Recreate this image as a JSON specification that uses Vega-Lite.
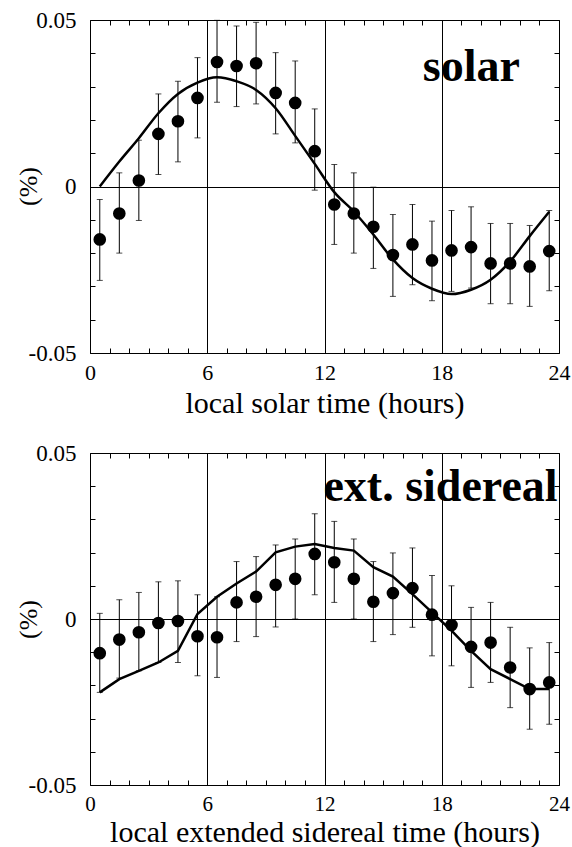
{
  "$schema": "https://vega.github.io/schema/vega-lite/v6.json",
  "padding": {"left": 14, "top": 8, "right": 0, "bottom": 0},
  "bounds": "flush",
  "spacing": 100,
  "config": {
    "view": {"stroke": "black", "strokeWidth": 1},
    "font": "Liberation Serif",
    "axis": {
      "labelFont": "Liberation Serif", "titleFont": "Liberation Serif",
      "labelColor": "black", "titleColor": "black", "tickColor": "black",
      "labelFontSize": 23, "titleFontWeight": "normal",
      "labelFlush": false, "labelOverlap": false, "labelBound": false,
      "domain": false, "tickWidth": 1, "tickSize": -5
    }
  },
  "datasets": {
    "solar": [
      {"h": 0.5, "v": -0.0159, "lo": -0.0282, "hi": -0.0039},
      {"h": 1.5, "v": -0.0081, "lo": -0.0200, "hi": 0.0041},
      {"h": 2.5, "v": 0.0018, "lo": -0.0102, "hi": 0.0139},
      {"h": 3.5, "v": 0.0158, "lo": 0.0036, "hi": 0.0278},
      {"h": 4.5, "v": 0.0196, "lo": 0.0074, "hi": 0.0316},
      {"h": 5.5, "v": 0.0266, "lo": 0.0146, "hi": 0.0387},
      {"h": 6.5, "v": 0.0374, "lo": 0.0253, "hi": 0.0499},
      {"h": 7.5, "v": 0.0362, "lo": 0.0240, "hi": 0.0482},
      {"h": 8.5, "v": 0.0370, "lo": 0.0248, "hi": 0.0493},
      {"h": 9.5, "v": 0.0281, "lo": 0.0158, "hi": 0.0402},
      {"h": 10.5, "v": 0.0251, "lo": 0.0131, "hi": 0.0377},
      {"h": 11.5, "v": 0.0106, "lo": -0.0011, "hi": 0.0233},
      {"h": 12.5, "v": -0.0054, "lo": -0.0174, "hi": 0.0066},
      {"h": 13.5, "v": -0.0081, "lo": -0.0200, "hi": 0.0041},
      {"h": 14.5, "v": -0.0121, "lo": -0.0246, "hi": -0.0002},
      {"h": 15.5, "v": -0.0206, "lo": -0.0330, "hi": -0.0084},
      {"h": 16.5, "v": -0.0174, "lo": -0.0295, "hi": -0.0054},
      {"h": 17.5, "v": -0.0222, "lo": -0.0343, "hi": -0.0104},
      {"h": 18.5, "v": -0.0192, "lo": -0.0315, "hi": -0.0072},
      {"h": 19.5, "v": -0.0182, "lo": -0.0305, "hi": -0.0061},
      {"h": 20.5, "v": -0.0231, "lo": -0.0352, "hi": -0.0111},
      {"h": 21.5, "v": -0.0231, "lo": -0.0352, "hi": -0.0111},
      {"h": 22.5, "v": -0.0240, "lo": -0.0360, "hi": -0.0117},
      {"h": 23.5, "v": -0.0194, "lo": -0.0313, "hi": -0.0072}
    ],
    "solarFit": [
      {"h": 0.5, "v": 0.0}, {"h": 1.5, "v": 0.0075}, {"h": 2.5, "v": 0.0145}, {"h": 3.5, "v": 0.0220},
      {"h": 4.5, "v": 0.0278}, {"h": 5.5, "v": 0.0312}, {"h": 6.5, "v": 0.0328}, {"h": 7.5, "v": 0.0316},
      {"h": 8.5, "v": 0.0290}, {"h": 9.5, "v": 0.0235}, {"h": 10.5, "v": 0.0152}, {"h": 11.5, "v": 0.0068},
      {"h": 12.5, "v": -0.0017}, {"h": 13.5, "v": -0.0075}, {"h": 14.5, "v": -0.0144}, {"h": 15.5, "v": -0.0219},
      {"h": 16.5, "v": -0.0275}, {"h": 17.5, "v": -0.0307}, {"h": 18.5, "v": -0.0323}, {"h": 19.5, "v": -0.0310},
      {"h": 20.5, "v": -0.0280}, {"h": 21.5, "v": -0.0225}, {"h": 22.5, "v": -0.0149}, {"h": 23.5, "v": -0.0076}
    ],
    "sid": [
      {"h": 0.5, "v": -0.0103, "lo": -0.0221, "hi": 0.0017},
      {"h": 1.5, "v": -0.0062, "lo": -0.0178, "hi": 0.0058},
      {"h": 2.5, "v": -0.0040, "lo": -0.0156, "hi": 0.0080},
      {"h": 3.5, "v": -0.0012, "lo": -0.0131, "hi": 0.0112},
      {"h": 4.5, "v": -0.0006, "lo": -0.0131, "hi": 0.0115},
      {"h": 5.5, "v": -0.0052, "lo": -0.0171, "hi": 0.0073},
      {"h": 6.5, "v": -0.0055, "lo": -0.0176, "hi": 0.0067},
      {"h": 7.5, "v": 0.0050, "lo": -0.0068, "hi": 0.0173},
      {"h": 8.5, "v": 0.0067, "lo": -0.0053, "hi": 0.0188},
      {"h": 9.5, "v": 0.0103, "lo": -0.0024, "hi": 0.0223},
      {"h": 10.5, "v": 0.0121, "lo": 0.0000, "hi": 0.0241},
      {"h": 11.5, "v": 0.0196, "lo": 0.0073, "hi": 0.0317},
      {"h": 12.5, "v": 0.0171, "lo": 0.0050, "hi": 0.0294},
      {"h": 13.5, "v": 0.0121, "lo": 0.0000, "hi": 0.0241},
      {"h": 14.5, "v": 0.0052, "lo": -0.0068, "hi": 0.0173},
      {"h": 15.5, "v": 0.0078, "lo": -0.0047, "hi": 0.0199},
      {"h": 16.5, "v": 0.0093, "lo": -0.0025, "hi": 0.0214},
      {"h": 17.5, "v": 0.0013, "lo": -0.0111, "hi": 0.0131},
      {"h": 18.5, "v": -0.0018, "lo": -0.0141, "hi": 0.0100},
      {"h": 19.5, "v": -0.0084, "lo": -0.0206, "hi": 0.0035},
      {"h": 20.5, "v": -0.0071, "lo": -0.0191, "hi": 0.0050},
      {"h": 21.5, "v": -0.0146, "lo": -0.0267, "hi": -0.0025},
      {"h": 22.5, "v": -0.0211, "lo": -0.0332, "hi": -0.0087},
      {"h": 23.5, "v": -0.0191, "lo": -0.0317, "hi": -0.0071}
    ],
    "sidFit": [
      {"h": 0.5, "v": -0.0221}, {"h": 1.5, "v": -0.0181}, {"h": 2.5, "v": -0.0156}, {"h": 3.5, "v": -0.0131},
      {"h": 4.5, "v": -0.0096}, {"h": 5.5, "v": 0.0015}, {"h": 6.5, "v": 0.0067}, {"h": 7.5, "v": 0.0107},
      {"h": 8.5, "v": 0.0143}, {"h": 9.5, "v": 0.0201}, {"h": 10.5, "v": 0.0218}, {"h": 11.5, "v": 0.0226},
      {"h": 12.5, "v": 0.0214}, {"h": 13.5, "v": 0.0206}, {"h": 14.5, "v": 0.0156}, {"h": 15.5, "v": 0.0128},
      {"h": 16.5, "v": 0.0075}, {"h": 17.5, "v": 0.0020}, {"h": 18.5, "v": -0.0035}, {"h": 19.5, "v": -0.0096},
      {"h": 20.5, "v": -0.0151}, {"h": 21.5, "v": -0.0181}, {"h": 22.5, "v": -0.0211}, {"h": 23.5, "v": -0.0211}
    ],
    "one": [{}]
  },
  "vconcat": [
    {
      "width": 469, "height": 333,
      "resolve": {"axis": {"x": "independent", "y": "independent"}},
      "layer": [
        {
          "data": {"name": "solar"},
          "mark": {"type": "rule", "color": "black", "strokeWidth": 1},
          "encoding": {
            "x": {"field": "h", "type": "quantitative", "scale": {"domain": [0, 24], "nice": false, "zero": false},
              "axis": {"orient": "bottom", "values": [0,1,2,3,4,5,6,7,8,9,10,11,12,13,14,15,16,17,18,19,20,21,22,23,24],
                "labelExpr": "datum.value % 6 === 0 ? datum.label : ''", "labelPadding": 14, "labelFontSize": 22,
                "grid": true, "gridColor": "black", "gridWidth": 1,
                "gridOpacity": {"condition": {"test": "datum.value % 6 === 0 && datum.value > 0 && datum.value < 24", "value": 1}, "value": 0},
                "title": "local solar time (hours)", "titleFontSize": 30, "titleBaseline": "alphabetic", "titleY": 59}},
            "y": {"field": "lo", "type": "quantitative", "scale": {"domain": [-0.05, 0.05], "nice": false, "zero": false},
              "axis": {"orient": "left", "values": [-0.05,-0.04,-0.03,-0.02,-0.01,0,0.01,0.02,0.03,0.04,0.05],
                "labelExpr": "abs(datum.value) < 1e-9 ? '0' : (abs(abs(datum.value) - 0.05) < 1e-9 ? (datum.value < 0 ? '-0.05' : '0.05') : '')",
                "labelPadding": 19,
                "grid": true, "gridColor": "black", "gridWidth": 1,
                "gridOpacity": {"condition": {"test": "abs(datum.value) < 1e-9", "value": 1}, "value": 0},
                "title": "(%)", "titleFontSize": 26, "titleX": -62, "titleY": 166, "titleBaseline": "middle"}},
            "y2": {"field": "hi"}
          }
        },
        {
          "data": {"name": "solar"},
          "mark": {"type": "tick", "orient": "horizontal", "size": 6, "thickness": 1, "color": "black"},
          "encoding": {
            "x": {"field": "h", "type": "quantitative", "axis": null},
            "y": {"field": "lo", "type": "quantitative", "axis": null}
          }
        },
        {
          "data": {"name": "solar"},
          "mark": {"type": "tick", "orient": "horizontal", "size": 6, "thickness": 1, "color": "black"},
          "encoding": {
            "x": {"field": "h", "type": "quantitative", "axis": null},
            "y": {"field": "hi", "type": "quantitative", "axis": null}
          }
        },
        {
          "data": {"name": "solarFit"},
          "mark": {"type": "line", "color": "black", "strokeWidth": 2.5, "interpolate": "monotone"},
          "encoding": {
            "x": {"field": "h", "type": "quantitative",
              "axis": {"orient": "top", "values": [0,1,2,3,4,5,6,7,8,9,10,11,12,13,14,15,16,17,18,19,20,21,22,23,24], "labels": false, "grid": false, "title": null}},
            "y": {"field": "v", "type": "quantitative",
              "axis": {"orient": "right", "values": [-0.05,-0.04,-0.03,-0.02,-0.01,0,0.01,0.02,0.03,0.04,0.05], "labels": false, "grid": false, "title": null}}
          }
        },
        {
          "data": {"name": "solar"},
          "mark": {"type": "circle", "size": 160, "color": "black", "opacity": 1},
          "encoding": {
            "x": {"field": "h", "type": "quantitative", "axis": null},
            "y": {"field": "v", "type": "quantitative", "axis": null}
          }
        },
        {
          "data": {"name": "one"},
          "mark": {"type": "text", "text": "solar", "font": "Liberation Serif", "fontSize": 46, "fontWeight": "bold", "align": "right", "baseline": "alphabetic", "color": "black"},
          "encoding": {
            "x": {"datum": 22, "type": "quantitative", "axis": null},
            "y": {"datum": 0.0317, "type": "quantitative", "axis": null}
          }
        }
      ]
    },
    {
      "width": 469, "height": 332,
      "resolve": {"axis": {"x": "independent", "y": "independent"}},
      "layer": [
        {
          "data": {"name": "sid"},
          "mark": {"type": "rule", "color": "black", "strokeWidth": 1},
          "encoding": {
            "x": {"field": "h", "type": "quantitative", "scale": {"domain": [0, 24], "nice": false, "zero": false},
              "axis": {"orient": "bottom", "values": [0,1,2,3,4,5,6,7,8,9,10,11,12,13,14,15,16,17,18,19,20,21,22,23,24],
                "labelExpr": "datum.value % 6 === 0 ? datum.label : ''", "labelPadding": 13, "labelFontSize": 21,
                "grid": true, "gridColor": "black", "gridWidth": 1,
                "gridOpacity": {"condition": {"test": "datum.value % 6 === 0 && datum.value > 0 && datum.value < 24", "value": 1}, "value": 0},
                "title": "local extended sidereal time (hours)", "titleFontSize": 30, "titleBaseline": "alphabetic", "titleY": 56}},
            "y": {"field": "lo", "type": "quantitative", "scale": {"domain": [-0.05, 0.05], "nice": false, "zero": false},
              "axis": {"orient": "left", "values": [-0.05,-0.04,-0.03,-0.02,-0.01,0,0.01,0.02,0.03,0.04,0.05],
                "labelExpr": "abs(datum.value) < 1e-9 ? '0' : (abs(abs(datum.value) - 0.05) < 1e-9 ? (datum.value < 0 ? '-0.05' : '0.05') : '')",
                "labelPadding": 19,
                "grid": true, "gridColor": "black", "gridWidth": 1,
                "gridOpacity": {"condition": {"test": "abs(datum.value) < 1e-9", "value": 1}, "value": 0},
                "title": "(%)", "titleFontSize": 26, "titleX": -62, "titleY": 166, "titleBaseline": "middle"}},
            "y2": {"field": "hi"}
          }
        },
        {
          "data": {"name": "sid"},
          "mark": {"type": "tick", "orient": "horizontal", "size": 6, "thickness": 1, "color": "black"},
          "encoding": {
            "x": {"field": "h", "type": "quantitative", "axis": null},
            "y": {"field": "lo", "type": "quantitative", "axis": null}
          }
        },
        {
          "data": {"name": "sid"},
          "mark": {"type": "tick", "orient": "horizontal", "size": 6, "thickness": 1, "color": "black"},
          "encoding": {
            "x": {"field": "h", "type": "quantitative", "axis": null},
            "y": {"field": "hi", "type": "quantitative", "axis": null}
          }
        },
        {
          "data": {"name": "sidFit"},
          "mark": {"type": "line", "color": "black", "strokeWidth": 2.5, "interpolate": "linear"},
          "encoding": {
            "x": {"field": "h", "type": "quantitative",
              "axis": {"orient": "top", "values": [0,1,2,3,4,5,6,7,8,9,10,11,12,13,14,15,16,17,18,19,20,21,22,23,24], "labels": false, "grid": false, "title": null}},
            "y": {"field": "v", "type": "quantitative",
              "axis": {"orient": "right", "values": [-0.05,-0.04,-0.03,-0.02,-0.01,0,0.01,0.02,0.03,0.04,0.05], "labels": false, "grid": false, "title": null}}
          }
        },
        {
          "data": {"name": "sid"},
          "mark": {"type": "circle", "size": 160, "color": "black", "opacity": 1},
          "encoding": {
            "x": {"field": "h", "type": "quantitative", "axis": null},
            "y": {"field": "v", "type": "quantitative", "axis": null}
          }
        },
        {
          "data": {"name": "one"},
          "mark": {"type": "text", "text": "ext. sidereal", "font": "Liberation Serif", "fontSize": 46, "fontWeight": "bold", "align": "right", "baseline": "alphabetic", "color": "black"},
          "encoding": {
            "x": {"datum": 23.93, "type": "quantitative", "axis": null},
            "y": {"datum": 0.0355, "type": "quantitative", "axis": null}
          }
        }
      ]
    }
  ]
}
